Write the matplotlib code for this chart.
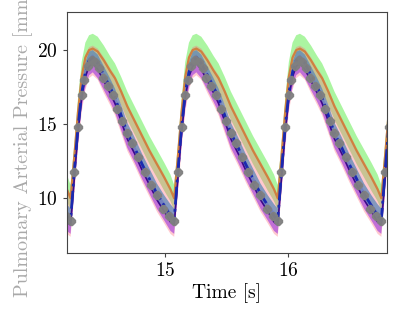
import numpy as np
import matplotlib
matplotlib.use('Agg')
import matplotlib.pyplot as plt

plt.rcParams['font.family'] = 'serif'
plt.rcParams['font.serif'] = ['cmr10']
plt.rcParams['mathtext.fontset'] = 'cm'
plt.rcParams['axes.formatter.use_mathtext'] = True

# one heart cycle, time measured from the trough [s]
phase = [0.00, 0.03, 0.06, 0.09, 0.12, 0.15, 0.18, 0.22, 0.27, 0.32,
         0.36, 0.41, 0.46, 0.52, 0.58, 0.64, 0.70, 0.76, 0.81]
troughs = [13.395, 14.235, 15.075, 15.915, 16.755]

mean_dashdot = [8.5, 11.8, 14.8, 17.1, 18.5, 19.3, 19.5, 19.1, 18.3, 17.5,
                16.8, 15.6, 14.4, 13.4, 12.3, 11.3, 10.3, 9.5, 8.8]
mean_purple = [8.2, 11.3, 14.4, 16.8, 18.2, 18.9, 19.1, 18.7, 17.9, 17.1,
               16.4, 15.2, 14.0, 13.0, 11.9, 10.9, 9.9, 9.1, 8.4]
mean_orange = [10.0, 12.8, 15.8, 18.2, 19.5, 20.0, 20.1, 19.9, 19.3, 18.6,
               18.1, 17.2, 16.2, 15.2, 14.2, 13.2, 12.3, 11.4, 10.6]

green_lo = [9.2, 11.8, 14.9, 17.3, 18.6, 19.2, 19.3, 19.0, 18.4, 17.7,
            17.2, 16.3, 15.3, 14.3, 13.3, 12.3, 11.4, 10.5, 9.8]
green_hi = [10.9, 13.6, 16.7, 19.2, 20.5, 21.0, 21.1, 20.9, 20.3, 19.6,
            19.1, 18.2, 17.2, 16.2, 15.2, 14.2, 13.3, 12.4, 11.6]
red_lo = [7.4, 10.2, 13.3, 15.8, 17.3, 18.1, 18.3, 18.0, 17.1, 16.3,
          15.6, 14.4, 13.2, 12.2, 11.1, 10.1, 9.1, 8.3, 7.6]
red_hi = [10.2, 13.0, 16.0, 18.4, 19.7, 20.2, 20.3, 20.1, 19.5, 18.8,
          18.3, 17.4, 16.4, 15.4, 14.4, 13.4, 12.5, 11.6, 10.8]
purple_lo = [7.6, 10.6, 13.7, 16.1, 17.5, 18.3, 18.5, 18.1, 17.3, 16.5,
             15.8, 14.6, 13.4, 12.4, 11.3, 10.3, 9.3, 8.5, 7.8]
purple_hi = [8.9, 12.0, 15.1, 17.5, 18.9, 19.5, 19.7, 19.3, 18.5, 17.7,
             17.0, 15.8, 14.6, 13.6, 12.5, 11.5, 10.5, 9.7, 9.1]
blue_lo = [8.2, 11.3, 14.5, 16.9, 18.2, 18.9, 19.1, 18.7, 17.9, 17.1,
           16.4, 15.2, 14.0, 13.0, 11.9, 10.9, 9.9, 9.1, 8.5]
blue_hi = [9.3, 12.3, 15.4, 17.8, 19.2, 19.9, 20.0, 19.7, 18.9, 18.1,
           17.4, 16.3, 15.1, 14.1, 13.0, 12.0, 11.0, 10.2, 9.6]

obs_phase = [0.00, 0.03, 0.06, 0.09, 0.11, 0.14, 0.17, 0.20, 0.23, 0.26, 0.30,
             0.34, 0.38, 0.42, 0.46, 0.50, 0.55, 0.60, 0.65, 0.70, 0.75, 0.80]
obs_val = [8.5, 11.8, 14.8, 17.0, 18.0, 18.9, 19.3, 19.2, 18.8, 18.1, 17.6,
           17.0, 16.0, 15.2, 14.4, 13.7, 12.8, 11.8, 10.9, 10.2, 9.3, 8.8]


def unroll(ph, vals):
    t = np.concatenate([tr + np.array(ph) for tr in troughs])
    v = np.tile(np.array(vals), len(troughs))
    return t, v


fig = plt.figure(figsize=(3.99, 3.19), dpi=100)
ax = fig.add_axes([0.167, 0.206, 0.802, 0.756])

t, g_lo = unroll(phase, green_lo)
_, g_hi = unroll(phase, green_hi)
ax.fill_between(t, g_lo, g_hi, color='#66ee55', alpha=0.55, lw=0)
_, r_lo = unroll(phase, red_lo)
_, r_hi = unroll(phase, red_hi)
ax.fill_between(t, r_lo, r_hi, color='#ff6677', alpha=0.35, lw=0)
_, p_lo = unroll(phase, purple_lo)
_, p_hi = unroll(phase, purple_hi)
ax.fill_between(t, p_lo, p_hi, color='#9933dd', alpha=0.6, lw=0)
_, b_lo = unroll(phase, blue_lo)
_, b_hi = unroll(phase, blue_hi)
ax.fill_between(t, b_lo, b_hi, color='#5b88b8', alpha=0.75, lw=0)

_, m_or = unroll(phase, mean_orange)
ax.plot(t, m_or, color='#d08040', lw=1.6)
_, m_pu = unroll(phase, mean_purple)
ax.plot(t, m_pu, color='#3a0a8a', lw=1.2)
_, m_dd = unroll(phase, mean_dashdot)
ax.plot(t, m_dd, color='#1a2ab0', lw=2.0, ls='-.')

to, vo = unroll(obs_phase, obs_val)
ax.plot(to, vo, ls='none', marker='8', ms=5.5, color='grey', alpha=0.95)

ax.set_xlim(14.203, 16.798)
ax.set_ylim(6.29, 22.56)
ax.set_xticks([15, 16])
ax.set_yticks([10, 15, 20])
ax.tick_params(labelsize=14, length=3, color='#444444')
for s in ax.spines.values():
    s.set_color('#444444')

ax.set_xlabel('Time [s]', fontsize=14, labelpad=2)
ax.set_ylabel('Pulmonary Arterial Pressure [mmHg]', fontsize=14.5,
              color='#aaaaaa', labelpad=3)

fig.savefig('out.png', dpi=100)
